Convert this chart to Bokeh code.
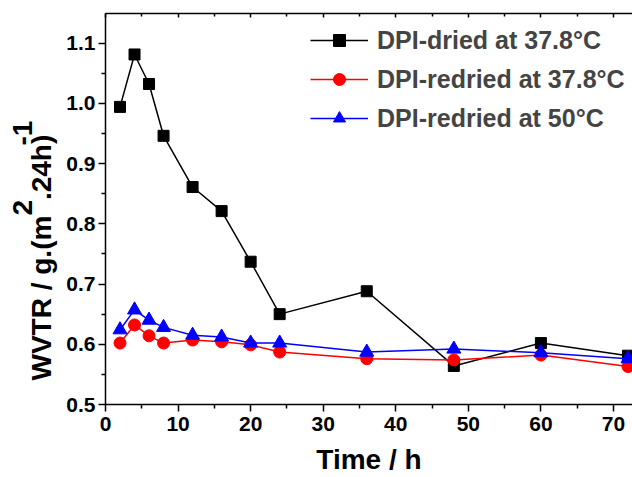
from bokeh.plotting import figure
from bokeh.models import Range1d, LinearAxis, Legend, LegendItem, FixedTicker, NumeralTickFormatter, Title
from bokeh.embed import file_html
from bokeh.resources import INLINE

time_h = [2, 4, 6, 8, 12, 16, 20, 24, 36, 48, 60, 72]
dried_378 = [0.994, 1.081, 1.032, 0.946, 0.861, 0.821, 0.737, 0.650, 0.688, 0.564, 0.602, 0.581]
redried_378 = [0.602, 0.632, 0.614, 0.602, 0.607, 0.604, 0.599, 0.587, 0.576, 0.574, 0.582, 0.563]
redried_50 = [0.624, 0.657, 0.640, 0.628, 0.615, 0.612, 0.602, 0.602, 0.587, 0.592, 0.586, 0.576]
series_names = ["DPI-dried at 37.8°C", "DPI-redried at 37.8°C", "DPI-redried at 50°C"]
x_ticks = [0, 10, 20, 30, 40, 50, 60, 70]
x_minor = [5, 15, 25, 35, 45, 55, 65]
y_ticks = [0.5, 0.6, 0.7, 0.8, 0.9, 1.0, 1.1]
y_minor = [0.55, 0.65, 0.75, 0.85, 0.95, 1.05]
y_title_main = "WVTR / g.(m\u00a0\u00a0.24h)"
y_title_sup = "2" + "\u00a0" * 7 + "-1"
x_title = "Time / h"

FONT = "Liberation Sans"

p = figure(width=632, height=477, output_backend="svg", toolbar_location=None,
           x_range=Range1d(0, 72.62), y_range=Range1d(0.5, 1.149),
           min_border_top=13, min_border_right=0, min_border_left=105, min_border_bottom=70)
p.outline_line_color = None
p.grid.visible = False
p.background_fill_color = "white"

for ax in (p.xaxis[0], p.yaxis[0]):
    ax.axis_line_width = 1.5
    ax.major_tick_line_width = 1.5
    ax.minor_tick_line_width = 1.5
    ax.major_tick_out = 7
    ax.major_tick_in = 0
    ax.minor_tick_out = 4
    ax.minor_tick_in = 0
    ax.major_label_text_font = FONT
    ax.major_label_text_font_style = "bold"
    ax.major_label_text_font_size = "21px"
    ax.major_label_text_color = "black"
    ax.axis_label_text_font = FONT
    ax.axis_label_text_font_style = "bold"
    ax.axis_label_text_font_size = "28px"
    ax.axis_label_text_color = "black"

p.xaxis[0].ticker = FixedTicker(ticks=x_ticks, minor_ticks=x_minor)
p.yaxis[0].ticker = FixedTicker(ticks=y_ticks, minor_ticks=y_minor)
p.yaxis[0].formatter = NumeralTickFormatter(format="0.0")
p.xaxis[0].axis_label = x_title
p.yaxis[0].axis_label = None
p.xaxis[0].major_label_standoff = 5
p.yaxis[0].major_label_standoff = 3
p.xaxis[0].axis_label_standoff = 10

top = LinearAxis(ticker=FixedTicker(ticks=x_ticks, minor_ticks=x_minor),
                 major_label_text_font_size="0px", major_label_standoff=0,
                 major_tick_in=4, major_tick_out=0, minor_tick_in=3, minor_tick_out=0,
                 axis_line_width=1.5, major_tick_line_width=1.5, minor_tick_line_width=1.5)
p.add_layout(top, "above")

# y-axis title: main text and raised superscripts as two stacked side titles
t_main = Title(text=y_title_main, align="left", offset=24, standoff=13,
               text_font=FONT, text_font_style="bold", text_font_size="28px",
               text_color="black")
t_sup = Title(text=y_title_sup, align="left", offset=189, standoff=-41,
              text_font=FONT, text_font_style="bold", text_font_size="28px",
              text_color="black")
p.add_layout(t_main, "left")
p.add_layout(t_sup, "left")

l1 = p.line(time_h, dried_378, line_color="black", line_width=1.5)
m1 = p.scatter(time_h, dried_378, marker="square", size=11, color="black")
l2 = p.line(time_h, redried_378, line_color="red", line_width=1.5)
m2 = p.scatter(time_h, redried_378, marker="circle", size=12, color="red")
l3 = p.line(time_h, redried_50, line_color="blue", line_width=1.5)
m3 = p.scatter(time_h, redried_50, marker="triangle", size=14, color="blue")

legend = Legend(items=[
    LegendItem(label=series_names[0], renderers=[l1, m1]),
    LegendItem(label=series_names[1], renderers=[l2, m2]),
    LegendItem(label=series_names[2], renderers=[l3, m3]),
], location=(205, 271))
legend.border_line_color = None
legend.background_fill_alpha = 0
legend.label_text_font = FONT
legend.label_text_font_style = "bold"
legend.label_text_font_size = "25px"
legend.label_height = 30
legend.glyph_height = 30
legend.glyph_width = 58
legend.spacing = 9
legend.padding = 0
legend.margin = 0
legend.label_standoff = 9
p.add_layout(legend)

open("out.html", "w").write(file_html(p, INLINE))
